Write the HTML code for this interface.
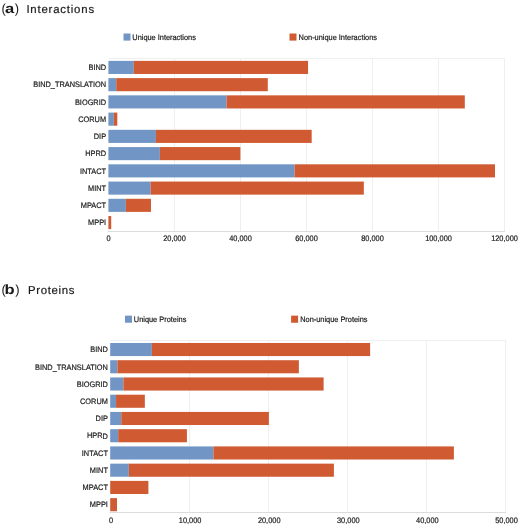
<!DOCTYPE html>
<html><head><meta charset="utf-8"><title>Figure</title>
<style>
html,body{margin:0;padding:0;background:#fff;}
body{width:520px;height:526px;overflow:hidden;font-family:"Liberation Sans",sans-serif;}
svg{display:block;will-change:transform;}
text{font-family:"Liberation Sans",sans-serif;fill:#1a1a1a;text-rendering:geometricPrecision;}
.s{font-size:7.95px;stroke:#1a1a1a;stroke-width:0.2px;}
.p{font-size:13px;letter-spacing:0.9px;}
.pb{font-size:13.6px;font-weight:bold;letter-spacing:0.9px;}
.t{font-size:11.4px;letter-spacing:0.8px;stroke:#1a1a1a;stroke-width:0.2px;}
</style></head><body>
<svg width="520" height="526" viewBox="0 0 520 526">
<rect x="0" y="0" width="520" height="526" fill="#ffffff"/>
<line x1="174.50" y1="58.00" x2="174.50" y2="232.00" stroke="#efefef" stroke-width="1"/>
<line x1="240.50" y1="58.00" x2="240.50" y2="232.00" stroke="#efefef" stroke-width="1"/>
<line x1="306.50" y1="58.00" x2="306.50" y2="232.00" stroke="#efefef" stroke-width="1"/>
<line x1="372.50" y1="58.00" x2="372.50" y2="232.00" stroke="#efefef" stroke-width="1"/>
<line x1="438.50" y1="58.00" x2="438.50" y2="232.00" stroke="#efefef" stroke-width="1"/>
<line x1="504.50" y1="58.00" x2="504.50" y2="232.00" stroke="#efefef" stroke-width="1"/>
<line x1="108.40" y1="58.50" x2="505.00" y2="58.50" stroke="#efefef" stroke-width="1"/>
<line x1="107.90" y1="231.50" x2="505.00" y2="231.50" stroke="#dcdcdc" stroke-width="1"/>
<rect x="108.40" y="60.87" width="25.41" height="13.1" fill="#7196c6"/>
<rect x="133.81" y="60.87" width="174.24" height="13.1" fill="#d05a32"/>
<rect x="108.40" y="78.11" width="7.82" height="13.1" fill="#7196c6"/>
<rect x="116.22" y="78.11" width="151.57" height="13.1" fill="#d05a32"/>
<rect x="108.40" y="95.35" width="118.14" height="13.1" fill="#7196c6"/>
<rect x="226.54" y="95.35" width="238.26" height="13.1" fill="#d05a32"/>
<rect x="108.40" y="112.59" width="5.44" height="13.1" fill="#7196c6"/>
<rect x="113.84" y="112.59" width="3.47" height="13.1" fill="#d05a32"/>
<rect x="108.40" y="129.83" width="47.52" height="13.1" fill="#7196c6"/>
<rect x="155.92" y="129.83" width="155.76" height="13.1" fill="#d05a32"/>
<rect x="108.40" y="147.07" width="51.48" height="13.1" fill="#7196c6"/>
<rect x="159.88" y="147.07" width="80.52" height="13.1" fill="#d05a32"/>
<rect x="108.40" y="164.31" width="186.12" height="13.1" fill="#7196c6"/>
<rect x="294.52" y="164.31" width="200.48" height="13.1" fill="#d05a32"/>
<rect x="108.40" y="181.55" width="42.24" height="13.1" fill="#7196c6"/>
<rect x="150.64" y="181.55" width="213.18" height="13.1" fill="#d05a32"/>
<rect x="108.40" y="198.79" width="17.49" height="13.1" fill="#7196c6"/>
<rect x="125.89" y="198.79" width="25.08" height="13.1" fill="#d05a32"/>
<rect x="108.40" y="216.03" width="2.81" height="13.1" fill="#d05a32"/>
<rect x="123.50" y="33.50" width="7" height="7.1" fill="#7196c6"/>
<rect x="289.50" y="33.50" width="7" height="7.1" fill="#d05a32"/>
<line x1="189.50" y1="340.00" x2="189.50" y2="513.00" stroke="#efefef" stroke-width="1"/>
<line x1="268.50" y1="340.00" x2="268.50" y2="513.00" stroke="#efefef" stroke-width="1"/>
<line x1="347.50" y1="340.00" x2="347.50" y2="513.00" stroke="#efefef" stroke-width="1"/>
<line x1="426.50" y1="340.00" x2="426.50" y2="513.00" stroke="#efefef" stroke-width="1"/>
<line x1="505.50" y1="340.00" x2="505.50" y2="513.00" stroke="#efefef" stroke-width="1"/>
<line x1="110.20" y1="340.50" x2="506.00" y2="340.50" stroke="#efefef" stroke-width="1"/>
<line x1="109.70" y1="512.50" x2="506.00" y2="512.50" stroke="#dcdcdc" stroke-width="1"/>
<rect x="110.20" y="342.97" width="41.69" height="13.1" fill="#7196c6"/>
<rect x="151.89" y="342.97" width="218.24" height="13.1" fill="#d05a32"/>
<rect x="110.20" y="360.21" width="7.24" height="13.1" fill="#7196c6"/>
<rect x="117.44" y="360.21" width="181.42" height="13.1" fill="#d05a32"/>
<rect x="110.20" y="377.45" width="13.21" height="13.1" fill="#7196c6"/>
<rect x="123.41" y="377.45" width="200.20" height="13.1" fill="#d05a32"/>
<rect x="110.20" y="394.69" width="5.85" height="13.1" fill="#7196c6"/>
<rect x="116.05" y="394.69" width="28.79" height="13.1" fill="#d05a32"/>
<rect x="110.20" y="411.93" width="11.07" height="13.1" fill="#7196c6"/>
<rect x="121.27" y="411.93" width="147.60" height="13.1" fill="#d05a32"/>
<rect x="110.20" y="429.17" width="7.99" height="13.1" fill="#7196c6"/>
<rect x="118.19" y="429.17" width="68.74" height="13.1" fill="#d05a32"/>
<rect x="110.20" y="446.41" width="103.23" height="13.1" fill="#7196c6"/>
<rect x="213.43" y="446.41" width="240.46" height="13.1" fill="#d05a32"/>
<rect x="110.20" y="463.65" width="18.59" height="13.1" fill="#7196c6"/>
<rect x="128.79" y="463.65" width="205.11" height="13.1" fill="#d05a32"/>
<rect x="110.20" y="480.89" width="38.21" height="13.1" fill="#d05a32"/>
<rect x="110.20" y="498.13" width="6.80" height="13.1" fill="#d05a32"/>
<rect x="125.00" y="315.65" width="7" height="7.1" fill="#7196c6"/>
<rect x="291.10" y="315.65" width="7" height="7.1" fill="#d05a32"/>
<g transform="matrix(1 0.0003 0 1 0 0)">
<text x="1.4" y="12.8" class="p">(</text>
<text class="pb" transform="translate(4.9 12.6) scale(1.22 1)">a</text>
<text x="14.8" y="12.8" class="p">)</text>
<text x="26.4" y="12.6" class="t">Interactions</text>
<text transform="translate(106.10 70.17) scale(0.93 1)" text-anchor="end" class="s">BIND</text>
<text transform="translate(106.10 87.41) scale(0.93 1)" text-anchor="end" class="s">BIND_TRANSLATION</text>
<text transform="translate(106.10 104.65) scale(0.93 1)" text-anchor="end" class="s">BIOGRID</text>
<text transform="translate(106.10 121.89) scale(0.93 1)" text-anchor="end" class="s">CORUM</text>
<text transform="translate(106.10 139.13) scale(0.93 1)" text-anchor="end" class="s">DIP</text>
<text transform="translate(106.10 156.37) scale(0.93 1)" text-anchor="end" class="s">HPRD</text>
<text transform="translate(106.10 173.61) scale(0.93 1)" text-anchor="end" class="s">INTACT</text>
<text transform="translate(106.10 190.85) scale(0.93 1)" text-anchor="end" class="s">MINT</text>
<text transform="translate(106.10 208.09) scale(0.93 1)" text-anchor="end" class="s">MPACT</text>
<text transform="translate(106.10 225.33) scale(0.93 1)" text-anchor="end" class="s">MPPI</text>
<text transform="translate(108.50 240.95) scale(0.93 1)" text-anchor="middle" class="s">0</text>
<text transform="translate(174.50 240.95) scale(0.93 1)" text-anchor="middle" class="s">20,000</text>
<text transform="translate(240.50 240.95) scale(0.93 1)" text-anchor="middle" class="s">40,000</text>
<text transform="translate(306.50 240.95) scale(0.93 1)" text-anchor="middle" class="s">60,000</text>
<text transform="translate(372.50 240.95) scale(0.93 1)" text-anchor="middle" class="s">80,000</text>
<text transform="translate(438.50 240.95) scale(0.93 1)" text-anchor="middle" class="s">100,000</text>
<text transform="translate(504.50 240.95) scale(0.93 1)" text-anchor="middle" class="s">120,000</text>
<text transform="translate(132.30 39.55) scale(0.93 1)" class="s">Unique Interactions</text>
<text transform="translate(298.60 39.55) scale(0.93 1)" class="s">Non-unique Interactions</text>
<text x="1.4" y="294.0" class="p">(</text>
<text class="pb" transform="translate(4.6 293.8) scale(1.22 1)">b</text>
<text x="15.3" y="294.0" class="p">)</text>
<text x="28.0" y="293.8" class="t" style="letter-spacing:0.65px">Proteins</text>
<text transform="translate(107.90 352.27) scale(0.93 1)" text-anchor="end" class="s">BIND</text>
<text transform="translate(107.90 369.51) scale(0.93 1)" text-anchor="end" class="s">BIND_TRANSLATION</text>
<text transform="translate(107.90 386.75) scale(0.93 1)" text-anchor="end" class="s">BIOGRID</text>
<text transform="translate(107.90 403.99) scale(0.93 1)" text-anchor="end" class="s">CORUM</text>
<text transform="translate(107.90 421.23) scale(0.93 1)" text-anchor="end" class="s">DIP</text>
<text transform="translate(107.90 438.47) scale(0.93 1)" text-anchor="end" class="s">HPRD</text>
<text transform="translate(107.90 455.71) scale(0.93 1)" text-anchor="end" class="s">INTACT</text>
<text transform="translate(107.90 472.95) scale(0.93 1)" text-anchor="end" class="s">MINT</text>
<text transform="translate(107.90 490.19) scale(0.93 1)" text-anchor="end" class="s">MPACT</text>
<text transform="translate(107.90 507.43) scale(0.93 1)" text-anchor="end" class="s">MPPI</text>
<text transform="translate(111.00 522.80) scale(0.93 1)" text-anchor="middle" class="s">0</text>
<text transform="translate(190.10 522.80) scale(0.93 1)" text-anchor="middle" class="s">10,000</text>
<text transform="translate(269.20 522.80) scale(0.93 1)" text-anchor="middle" class="s">20,000</text>
<text transform="translate(348.30 522.80) scale(0.93 1)" text-anchor="middle" class="s">30,000</text>
<text transform="translate(427.40 522.80) scale(0.93 1)" text-anchor="middle" class="s">40,000</text>
<text transform="translate(506.50 522.80) scale(0.93 1)" text-anchor="middle" class="s">50,000</text>
<text transform="translate(133.80 321.70) scale(0.93 1)" class="s">Unique Proteins</text>
<text transform="translate(300.20 321.70) scale(0.93 1)" class="s">Non-unique Proteins</text>
</g>
</svg>
</body></html>
